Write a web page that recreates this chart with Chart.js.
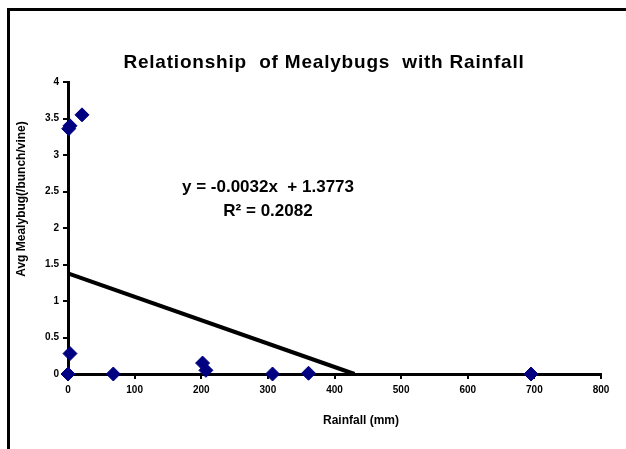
<!DOCTYPE html>
<html>
<head>
<meta charset="utf-8">
<script src="https://cdn.jsdelivr.net/npm/chart.js@4"></script>
<style>
  html, body { margin: 0; padding: 0; background: #fff; }
  #wrap { position: relative; width: 626px; height: 449px; overflow: hidden; }
  #frame {
    position: absolute; left: 7px; top: 8px; width: 700px; height: 500px;
    border-top: 3px solid #000; border-left: 3px solid #000;
  }
  #chart { position: absolute; left: 0; top: 0; }
</style>
</head>
<body>
<div id="wrap">
  <div id="frame"></div>
  <canvas id="chart" width="626" height="449"></canvas>
</div>
<script>
// values
const rainfall = [0, 3, 1, 3, 21, 68, 202, 207, 307, 361, 695];
const mealybugs = [0, 0.28, 3.36, 3.40, 3.55, 0, 0.15, 0.05, 0, 0.01, 0];

// trendline as drawn: y = -0.0032x + 1.3773, ending where it meets the x axis
const trendX = [0, 430];
const trendY = [1.3773, 0];

const xTicksMax = 800;
const yTicksMax = 4;

const chartTitle = "Relationship  of Mealybugs  with Rainfall";
const xTitle = "Rainfall (mm)";
const yTitle = "Avg Mealybug(/bunch/vine)";
const equationLines = ["y = -0.0032x  + 1.3773", "R² = 0.2082"];

const FONT = "'Liberation Sans', Arial, sans-serif";

const textPlugin = {
  id: "texts",
  afterDraw(chart) {
    const ctx = chart.ctx;
    ctx.save();
    ctx.fillStyle = "#000";
    ctx.textAlign = "center";
    ctx.textBaseline = "middle";

    ctx.font = "bold 19px " + FONT;
    ctx.letterSpacing = "0.8px";
    ctx.fillText(chartTitle, 324, 63);
    ctx.letterSpacing = "0px";

    ctx.font = "bold 17px " + FONT;
    ctx.fillText(equationLines[0], 268, 187);
    ctx.fillText(equationLines[1], 268, 211);

    ctx.font = "bold 12px " + FONT;
    ctx.fillText(xTitle, 361, 421);

    ctx.translate(22, 199);
    ctx.rotate(-Math.PI / 2);
    ctx.font = "bold 12px " + FONT;
    ctx.fillText(yTitle, 0, 0);
    ctx.restore();
  },
};

const tickFont = { family: FONT, size: 10, weight: "bold" };

new Chart(document.getElementById("chart"), {
  type: "scatter",
  data: {
    datasets: [
      {
        label: "Trend",
        type: "line",
        data: trendX.map((x, i) => ({ x, y: trendY[i] })),
        borderColor: "#000",
        borderWidth: 4,
        pointRadius: 0,
        fill: false,
        clip: false,
      },
      {
        label: "Mealybugs",
        data: rainfall.map((x, i) => ({ x, y: mealybugs[i] })),
        pointStyle: "rectRot",
        pointRadius: 7,
        backgroundColor: "#000080",
        borderColor: "#000080",
        borderWidth: 1,
        clip: false,
      },
    ],
  },
  options: {
    responsive: false,
    animation: false,
    layout: { padding: { top: 82, right: 25, left: 0, bottom: 0 } },
    plugins: {
      legend: { display: false },
      title: { display: false },
      tooltip: { enabled: false },
    },
    scales: {
      x: {
        type: "linear",
        min: 0,
        max: xTicksMax,
        ticks: { stepSize: 100, color: "#000", font: tickFont, padding: 5, maxRotation: 0 },
        grid: { drawOnChartArea: false, color: "#000", lineWidth: 2, tickLength: 5 },
        border: { color: "#000", width: 3 },
        afterFit: (s) => { s.height = 75; },
      },
      y: {
        min: 0,
        max: yTicksMax,
        ticks: {
          stepSize: 0.5,
          color: "#000",
          font: tickFont,
          padding: 4,
          callback: (v) => String(v),
        },
        grid: { drawOnChartArea: false, color: "#000", lineWidth: 2, tickLength: 5 },
        border: { color: "#000", width: 3 },
        afterFit: (s) => { s.width = 68; },
      },
    },
  },
  plugins: [textPlugin],
});
</script>
</body>
</html>
